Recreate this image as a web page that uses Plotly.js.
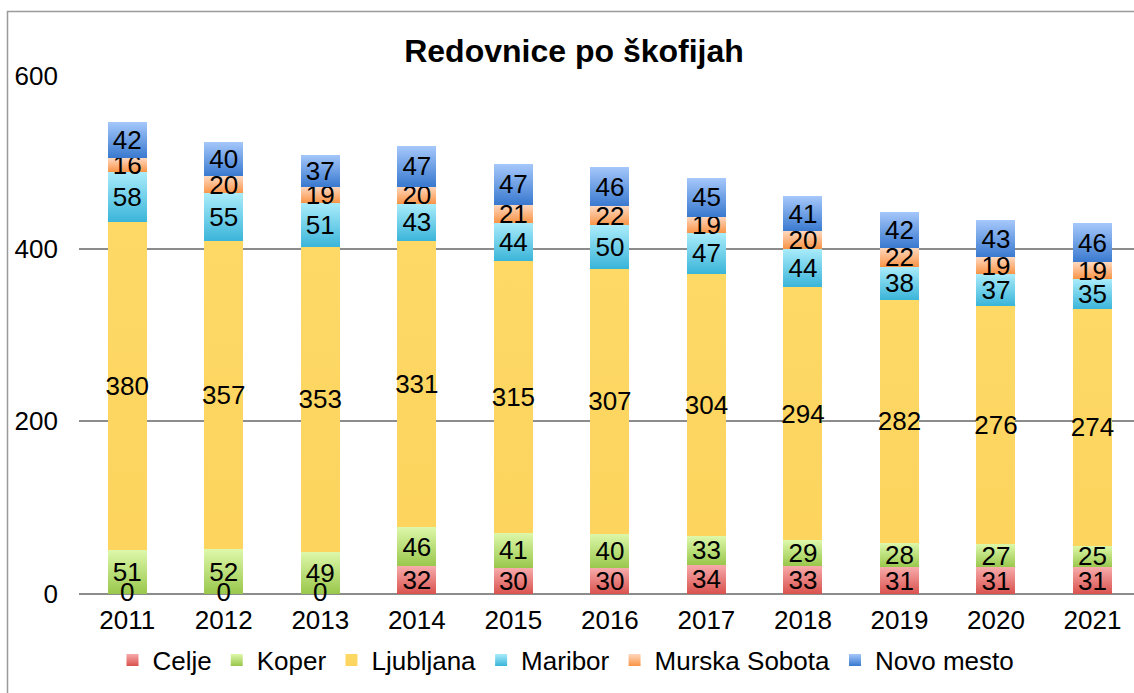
<!DOCTYPE html>
<html>
<head>
<meta charset="utf-8">
<script src="https://cdn.plot.ly/plotly-3.0.1.min.js"></script>
<style>html,body{margin:0;padding:0;background:#fff;}#chart{width:1134px;height:693px;}</style>
</head>
<body>
<div id="chart"></div>
<script>
const years = ['2011','2012','2013','2014','2015','2016','2017','2018','2019','2020','2021'];
const seriesNames = ['Celje','Koper','Ljubljana','Maribor','Murska Sobota','Novo mesto'];
const celje = [0,0,0,32,30,30,34,33,31,31,31];
const koper = [51,52,49,46,41,40,33,29,28,27,25];
const ljubljana = [380,357,353,331,315,307,304,294,282,276,274];
const maribor = [58,55,51,43,44,50,47,44,38,37,35];
const murskaSobota = [16,20,19,20,21,22,19,20,22,19,19];
const novoMesto = [42,40,37,47,47,46,45,41,42,43,46];

const seriesValues = [celje, koper, ljubljana, maribor, murskaSobota, novoMesto];
const flatColors = ['#e87c7a','#c4e484','#fdd766','#7dd2ec','#fcb584','#74a3e8'];
const gradTop = ['#f7abab','#def8aa','#fed966','#aaecfb','#ffd8bf','#a6c8fb'];
const gradBottom = ['#d9524e','#99c74c','#fcd45e','#3bb5d9','#f99446','#3979cf'];

const font = 'Liberation Sans, Arial, sans-serif';
const labelSize = 26;

const data = seriesNames.map((name, i) => ({
  type: 'bar',
  name: name,
  x: years,
  y: seriesValues[i],
  text: seriesValues[i].map(String),
  textposition: 'inside',
  insidetextanchor: 'middle',
  textangle: 0,
  constraintext: 'none',
  cliponaxis: false,
  textfont: {family: font, size: labelSize, color: '#000'},
  marker: {color: flatColors[i], line: {width: 0}},
  hoverinfo: 'none'
}));

// labels for zero-height Celje bars (not drawn by the bar trace itself)
data.push({
  type: 'scatter', mode: 'text', x: years, y: celje,
  text: celje.map(v => v === 0 ? String(v) : ''),
  textposition: 'middle center',
  textfont: {family: font, size: labelSize, color: '#000'},
  showlegend: false, hoverinfo: 'none', cliponaxis: false
});

const pxW = 1134, pxH = 693, mL = 79, mR = 0, mT = 76, mB = 99;
const plotW = pxW - mL - mR, plotH = pxH - mT - mB;

const layout = {
  width: pxW, height: pxH,
  margin: {l: mL, r: mR, t: mT, b: mB, pad: 0},
  paper_bgcolor: '#fff', plot_bgcolor: '#fff',
  barmode: 'stack',
  bargap: 0.596,
  font: {family: font, color: '#000'},
  title: {
    text: '<b>Redovnice po škofijah</b>',
    font: {family: font, size: 32, color: '#000'},
    x: 574 / pxW, xanchor: 'center', xref: 'container',
    y: 1 - 51 / pxH, yanchor: 'middle', yref: 'container'
  },
  xaxis: {
    type: 'category',
    range: [-0.5, 10.43],
    showline: false, showgrid: false, zeroline: false,
    ticks: '', tickfont: {family: font, size: 26, color: '#000'},
    ticklabelstandoff: 8
  },
  yaxis: {
    range: [0, 600], dtick: 200, tick0: 0,
    showgrid: true, gridcolor: '#8c8c8c', gridwidth: 2,
    zeroline: true, zerolinecolor: '#8c8c8c', zerolinewidth: 2,
    showline: false, ticks: '',
    tickfont: {family: font, size: 26, color: '#000'},
    ticklabelstandoff: 20
  },
  legend: {
    orientation: 'h', traceorder: 'normal',
    xref: 'container', yref: 'container',
    x: 566 / pxW, xanchor: 'center',
    y: 1 - 660 / pxH, yanchor: 'middle',
    font: {family: font, size: 26, color: '#000'},
    itemclick: false, itemdoubleclick: false
  },
  shapes: [{
    type: 'rect', xref: 'paper', yref: 'paper', layer: 'below',
    x0: (7.5 - mL) / plotW, x1: 1.2,
    y0: -0.5, y1: (pxH - mB - 11.5) / plotH,
    line: {color: '#9a9a9a', width: 1.5}, fillcolor: 'rgba(0,0,0,0)'
  }],
  showlegend: true
};

function applyGradients(gd) {
  const svg = gd.querySelector('svg.main-svg');
  if (!svg) return;
  const ns = 'http://www.w3.org/2000/svg';
  let defs = svg.querySelector('defs');
  if (!defs) { defs = document.createElementNS(ns, 'defs'); svg.insertBefore(defs, svg.firstChild); }
  seriesNames.forEach((n, i) => {
    const id = 'grad' + i;
    if (!svg.querySelector('#' + id)) {
      const g = document.createElementNS(ns, 'linearGradient');
      g.setAttribute('id', id);
      g.setAttribute('x1', '0'); g.setAttribute('y1', '0');
      g.setAttribute('x2', '0'); g.setAttribute('y2', '1');
      const s1 = document.createElementNS(ns, 'stop');
      s1.setAttribute('offset', '0'); s1.setAttribute('stop-color', gradTop[i]);
      const s2 = document.createElementNS(ns, 'stop');
      s2.setAttribute('offset', '1'); s2.setAttribute('stop-color', gradBottom[i]);
      g.appendChild(s1); g.appendChild(s2); defs.appendChild(g);
    }
  });
  const traces = gd.querySelectorAll('.barlayer .trace');
  traces.forEach((t, i) => {
    t.querySelectorAll('path').forEach(p => { p.style.fill = 'url(#grad' + i + ')'; });
  });
  gd.querySelectorAll('.legend .traces').forEach(t => {
    const txt = t.querySelector('.legendtext');
    const idx = txt ? seriesNames.indexOf(txt.textContent) : -1;
    if (idx >= 0) t.querySelectorAll('.legendpoints path').forEach(p => { p.style.fill = 'url(#grad' + idx + ')'; });
  });
}

Plotly.newPlot('chart', data, layout, {staticPlot: true, displayModeBar: false}).then(gd => applyGradients(gd));
</script>
</body>
</html>
